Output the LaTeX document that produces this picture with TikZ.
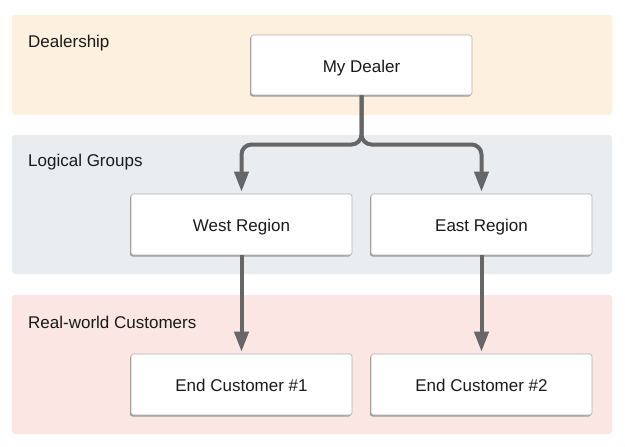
\documentclass[tikz,border=0pt]{standalone}
\usepackage{fontspec}
\setmainfont{Liberation Sans}
\usetikzlibrary{arrows.meta}
\definecolor{bandA}{HTML}{FDF0DF}
\definecolor{bandB}{HTML}{E9EDF0}
\definecolor{bandC}{HTML}{FBE6E4}
\definecolor{boxline}{HTML}{B0B0B0}
\definecolor{shadowc}{HTML}{9A9A9A}
\definecolor{arrowc}{HTML}{666666}
\definecolor{txt}{HTML}{1A1A1A}
\begin{document}
\begin{tikzpicture}[x=1pt,y=-1pt,
  band/.style={fill=#1,draw=none,rounded corners=3pt},
  bandlabel/.style={anchor=west,inner sep=0pt,text=txt,font=\fontsize{17}{20}\selectfont},
  boxnode/.style={draw=boxline,line width=0.6pt,fill=white,rounded corners=2.5pt,
    minimum width=221pt,minimum height=61pt,inner sep=0pt,text=txt,
    text height=14pt,text depth=0pt,
    font=\fontsize{17}{20}\selectfont},
  boxshadow/.style={fill=shadowc,draw=none,rounded corners=2.5pt},
  conn/.style={draw=arrowc,line width=4pt,-{Triangle[length=20pt,width=14pt]},shorten >=2pt},
  branch/.style={conn,rounded corners=10pt}]
\useasboundingbox (0,0) rectangle (625,447);
\fill[white] (0,0) rectangle (625,447);
% bands
\path[band=bandA] (12,15) rectangle (612,115);
\path[band=bandB] (12,135) rectangle (612,274);
\path[band=bandC] (12,295) rectangle (612,434);
\node[bandlabel] (lblA) at (28,43.5) {Dealership};
\node[bandlabel] (lblB) at (28,162.5) {Logical Groups};
\node[bandlabel] (lblC) at (28,322.5) {Real-world Customers};
% shadows
\path[boxshadow] (250,36.5) rectangle (471,96.5);
\path[boxshadow] (130,195.5) rectangle (351,256.5);
\path[boxshadow] (370,195.5) rectangle (591,256.5);
\path[boxshadow] (130,355.5) rectangle (351,416.5);
\path[boxshadow] (370,355.5) rectangle (591,416.5);
% boxes
\node[boxnode,minimum height=60pt] (dealer) at (361.5,65) {My Dealer};
\node[boxnode] (west) at (241.5,224.5) {West Region};
\node[boxnode] (east) at (481.5,224.5) {East Region};
\node[boxnode] (cust1) at (241.5,384.5) {End Customer \#1};
\node[boxnode] (cust2) at (481.5,384.5) {End Customer \#2};
% connectors
\coordinate (junc) at (361.5,144.5);
\draw[branch] (dealer.south) -- (junc) -| (west.north);
\draw[branch] (dealer.south) -- (junc) -| (east.north);
\draw[conn] (west.south) -- (cust1.north);
\draw[conn] (east.south) -- (cust2.north);
\end{tikzpicture}
\end{document}
